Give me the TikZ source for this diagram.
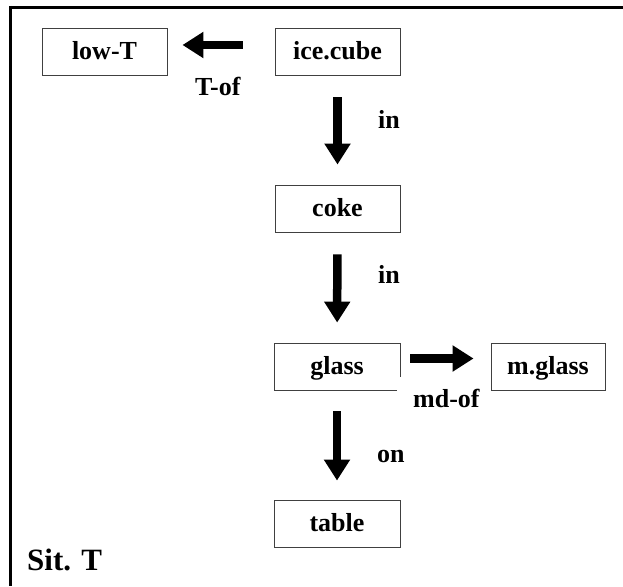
\documentclass[tikz,border=0pt]{standalone}
\usepackage{fontspec}
\setmainfont{Liberation Serif}
\usetikzlibrary{arrows.meta}
\begin{document}
\begin{tikzpicture}[x=1pt,y=-1pt,
  box/.style={draw=black!75, line width=0.9pt, minimum height=47pt, inner sep=0pt,
    text height=17pt, text depth=1pt,
    font=\fontsize{26}{30}\selectfont\bfseries},
  lbl/.style={anchor=base west, inner sep=0pt, font=\fontsize{26}{30}\selectfont\bfseries},
  bigarrow/.style={line width=8.5pt, -{Triangle[length=21pt,width=25pt]}}]
\useasboundingbox (0,0) rectangle (623,586);
% frame (top and left sides)
\draw[line width=3pt] (9,7.5) -- (623,7.5);
\draw[line width=3pt] (10.5,6) -- (10.5,586);
% nodes
\node[box, minimum width=125pt] (lowT) at (104.5,51.5) {low-T};
\node[box, minimum width=125pt] (ice) at (337.5,51.5) {ice.cube};
\node[box, minimum width=125pt] (coke) at (337.5,208.5) {coke};
\node[box, minimum width=126pt] (glass) at (337,366.5) {glass};
\node[box, minimum width=114pt] (mglass) at (548,366.5) {m.glass};
\node[box, minimum width=126pt] (table) at (337,523.5) {table};
\fill[white] (397.3,377) rectangle (402,392);
% connectors
\draw[bigarrow, shorten <=32pt, shorten >=15pt] ([yshift=6.5pt]ice.west) -- ([yshift=6.5pt]lowT.east);
\draw[bigarrow, shorten <=22pt, shorten >=20pt] (ice) -- (coke);
\draw[bigarrow, shorten <=22pt, shorten >=20pt] (coke) -- (glass);
\draw[bigarrow, shorten <=21pt, shorten >=19pt] (glass) -- (table);
\draw[bigarrow, shorten <=10pt, shorten >=17pt] ([yshift=8pt]glass.east) -- ([yshift=8pt]mglass.west);
% labels
\node[lbl] (tof) at (195,95) {T-of};
\node[lbl] (in1) at (378,128) {in};
\node[lbl] (in2) at (378,283) {in};
\node[lbl] (mdof) at (413,407) {md-of};
\node[lbl] (on) at (377,462) {on};
\node[lbl, font=\fontsize{31}{36}\selectfont\bfseries] (sit) at (27,570) {Sit. T};
\end{tikzpicture}
\end{document}
